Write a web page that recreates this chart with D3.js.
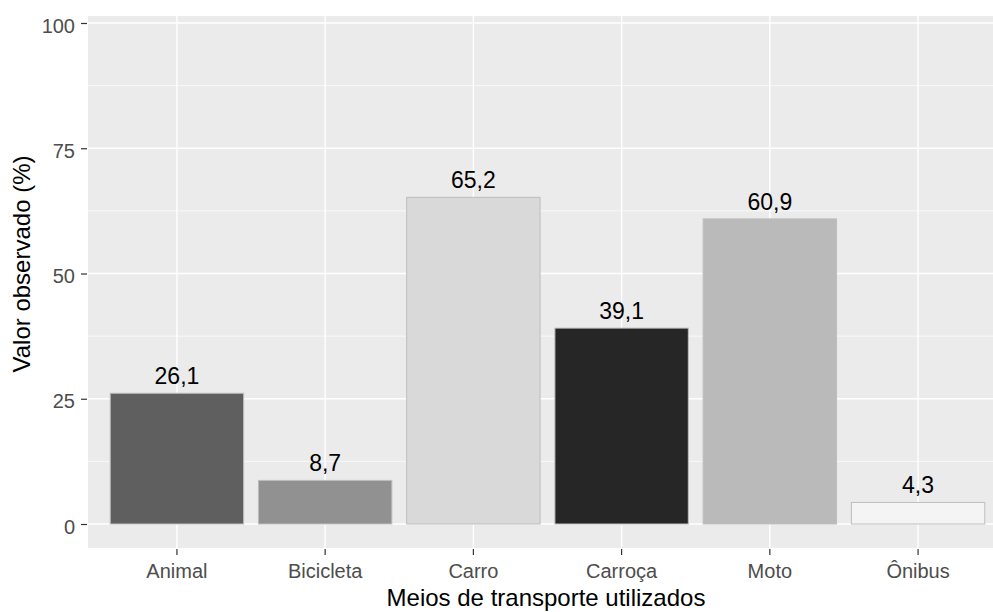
<!DOCTYPE html>
<html>
<head>
<meta charset="utf-8">
<script src="https://cdn.jsdelivr.net/npm/d3@7"></script>
<style>
  body { margin: 0; background: #fff; }
  svg text { font-family: "Liberation Sans", Arial, sans-serif; }
</style>
</head>
<body>
<div class="chart"></div>
<script>
// data
const categories = ['Animal', 'Bicicleta', 'Carro', 'Carroça', 'Moto', 'Ônibus'];
const values = [26.1, 8.7, 65.2, 39.1, 60.9, 4.3];
const fills = ['#5f5f5f', '#919191', '#d9d9d9', '#262626', '#bababa', '#f4f4f4'];
const yTicks = [0, 25, 50, 75, 100];
const yMinor = [12.5, 37.5, 62.5, 87.5];

const data = categories.map((c, i) => ({cat: c, val: values[i], fill: fills[i]}));

const width = 993, height = 612;
const panel = {left: 88, top: 16, right: 1007, bottom: 548};

const svg = d3.select('.chart')
    .append('svg')
    .attr('width', width)
    .attr('height', height);

const xScale = d3.scaleBand()
    .domain(categories)
    .range([panel.left, panel.right])
    .paddingInner(0.1)
    .paddingOuter(0.15);

const yScale = d3.scaleLinear()
    .domain([0, 100])
    .range([524, 23]);

// panel background
svg.append('rect')
    .attr('x', panel.left)
    .attr('y', panel.top)
    .attr('width', width - panel.left)
    .attr('height', panel.bottom - panel.top)
    .attr('fill', '#ebebeb');

// grid
svg.selectAll('.minor')
    .data(yMinor)
    .enter()
    .append('line')
    .attr('x1', panel.left).attr('x2', width)
    .attr('y1', d => yScale(d)).attr('y2', d => yScale(d))
    .attr('stroke', '#fff')
    .attr('stroke-width', 0.7);

svg.selectAll('.major')
    .data(yTicks)
    .enter()
    .append('line')
    .attr('x1', panel.left).attr('x2', width)
    .attr('y1', d => yScale(d)).attr('y2', d => yScale(d))
    .attr('stroke', '#fff')
    .attr('stroke-width', 1.4);

svg.selectAll('.vgrid')
    .data(categories)
    .enter()
    .append('line')
    .attr('x1', d => xScale(d) + xScale.bandwidth() / 2)
    .attr('x2', d => xScale(d) + xScale.bandwidth() / 2)
    .attr('y1', panel.top).attr('y2', panel.bottom)
    .attr('stroke', '#fff')
    .attr('stroke-width', 1.4);

// bars
svg.selectAll('.bar')
    .data(data)
    .enter()
    .append('rect')
    .attr('x', d => xScale(d.cat))
    .attr('y', d => yScale(d.val))
    .attr('width', xScale.bandwidth())
    .attr('height', d => yScale(0) - yScale(d.val))
    .attr('fill', d => d.fill)
    .attr('stroke', '#bebebe')
    .attr('stroke-width', 1);

// value labels
svg.selectAll('.lbl')
    .data(data)
    .enter()
    .append('text')
    .attr('x', d => xScale(d.cat) + xScale.bandwidth() / 2)
    .attr('y', d => yScale(d.val) - 9)
    .attr('text-anchor', 'middle')
    .attr('font-size', 23)
    .attr('fill', '#000')
    .text(d => d3.format('.1f')(d.val).replace('.', ','));

// axes
const xAxis = d3.axisBottom(xScale).tickSize(6).tickPadding(9);
const yAxis = d3.axisLeft(yScale).tickValues(yTicks).tickSize(6).tickPadding(6);

const gx = svg.append('g')
    .attr('transform', 'translate(0,' + (panel.bottom + 1) + ')')
    .call(xAxis);
const gy = svg.append('g')
    .attr('transform', 'translate(' + (panel.left - 1) + ',0)')
    .call(yAxis);

[gx, gy].forEach(g => {
    g.select('.domain').remove();
    g.selectAll('.tick line').attr('stroke', '#333').attr('stroke-width', 1.2);
    g.selectAll('.tick text').attr('fill', '#4d4d4d').attr('font-size', 20);
});
gy.selectAll('.tick text').attr('dy', '0.45em');

// titles
svg.append('text')
    .attr('x', 546)
    .attr('y', 606)
    .attr('text-anchor', 'middle')
    .attr('font-size', 24)
    .text('Meios de transporte utilizados');

svg.append('text')
    .attr('transform', 'translate(30,264) rotate(-90)')
    .attr('text-anchor', 'middle')
    .attr('font-size', 24)
    .text('Valor observado (%)');
</script>
</body>
</html>
